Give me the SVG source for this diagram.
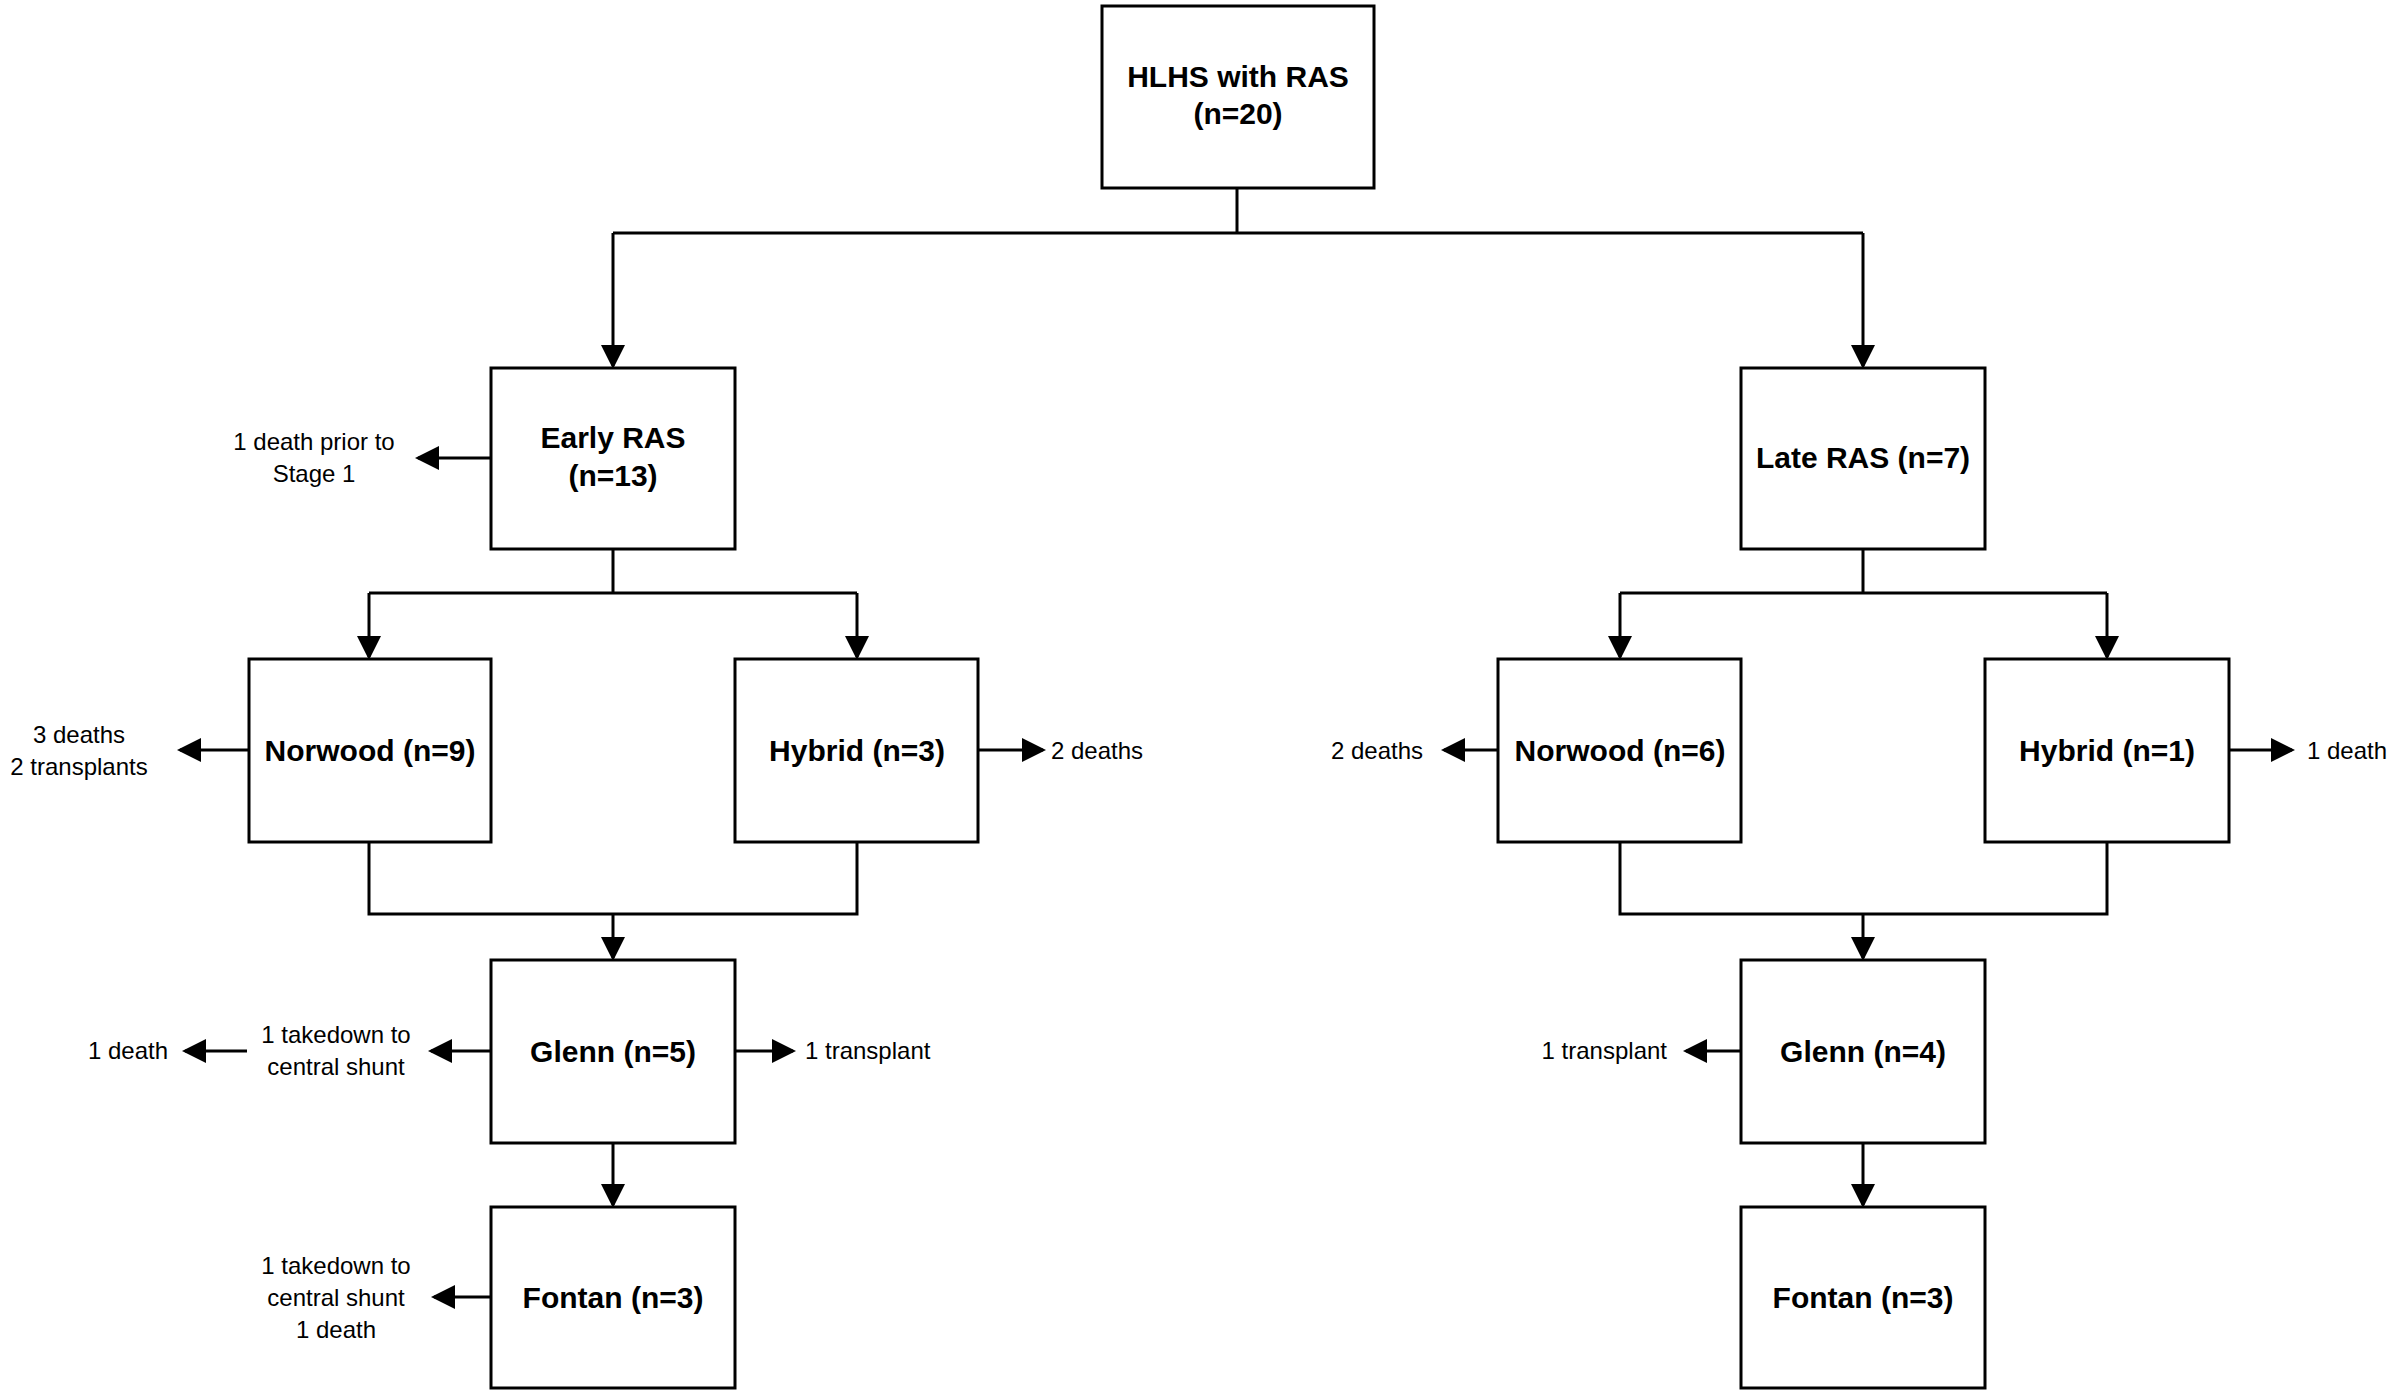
<svg xmlns="http://www.w3.org/2000/svg" width="2392" height="1395" viewBox="0 0 2392 1395">
<style>
.b{fill:#fff;stroke:#000;stroke-width:3}
.t{font-family:"Liberation Sans",Arial,sans-serif;font-size:30px;font-weight:bold;text-anchor:middle}
.s{font-family:"Liberation Sans",Arial,sans-serif;font-size:24px}
.c path{fill:none;stroke:#000;stroke-width:3}
</style>
<defs><marker id="a" markerWidth="8" markerHeight="8" refX="7" refY="4" orient="auto" markerUnits="strokeWidth"><path d="M0,0L8,4L0,8z" fill="#000"/></marker></defs>
<rect width="2392" height="1395" fill="#fff"/>
<g class="c">
<path d="M1237,188V233M613,233H1863"/>
<path d="M613,233V366" marker-end="url(#a)"/><path d="M1863,233V366" marker-end="url(#a)"/>
<path d="M613,549V593H857M369,593H613"/>
<path d="M369,593V657" marker-end="url(#a)"/><path d="M857,593V657" marker-end="url(#a)"/>
<path d="M1863,549V593H2107M1620,593H1863"/>
<path d="M1620,593V657" marker-end="url(#a)"/><path d="M2107,593V657" marker-end="url(#a)"/>
<path d="M369,842V914H857V842M1620,842V914H2107V842"/>
<path d="M613,914V958" marker-end="url(#a)"/><path d="M1863,914V958" marker-end="url(#a)"/>
<path d="M613,1143V1205" marker-end="url(#a)"/><path d="M1863,1143V1205" marker-end="url(#a)"/>
<path d="M491,458H418" marker-end="url(#a)"/>
<path d="M249,750H180" marker-end="url(#a)"/>
<path d="M978,750H1043" marker-end="url(#a)"/>
<path d="M1498,750H1444" marker-end="url(#a)"/>
<path d="M2229,750H2292" marker-end="url(#a)"/>
<path d="M491,1051H431" marker-end="url(#a)"/>
<path d="M247,1051H185" marker-end="url(#a)"/>
<path d="M735,1051H793" marker-end="url(#a)"/>
<path d="M1741,1051H1686" marker-end="url(#a)"/>
<path d="M491,1297H434" marker-end="url(#a)"/>
</g>
<g id="top"><rect class="b" x="1102" y="6" width="272" height="182"/><text class="t" x="1238" y="87">HLHS with RAS</text><text class="t" x="1238" y="124">(n=20)</text></g>
<g id="early"><rect class="b" x="491" y="368" width="244" height="181"/><text class="t" x="613" y="448">Early RAS</text><text class="t" x="613" y="486">(n=13)</text></g>
<g id="late"><rect class="b" x="1741" y="368" width="244" height="181"/><text class="t" x="1863" y="468">Late RAS (n=7)</text></g>
<g id="norwoodL"><rect class="b" x="249" y="659" width="242" height="183"/><text class="t" x="370" y="761">Norwood (n=9)</text></g>
<g id="hybridL"><rect class="b" x="735" y="659" width="243" height="183"/><text class="t" x="857" y="761">Hybrid (n=3)</text></g>
<g id="norwoodR"><rect class="b" x="1498" y="659" width="243" height="183"/><text class="t" x="1620" y="761">Norwood (n=6)</text></g>
<g id="hybridR"><rect class="b" x="1985" y="659" width="244" height="183"/><text class="t" x="2107" y="761">Hybrid (n=1)</text></g>
<g id="glennL"><rect class="b" x="491" y="960" width="244" height="183"/><text class="t" x="613" y="1062">Glenn (n=5)</text></g>
<g id="glennR"><rect class="b" x="1741" y="960" width="244" height="183"/><text class="t" x="1863" y="1062">Glenn (n=4)</text></g>
<g id="fontanL"><rect class="b" x="491" y="1207" width="244" height="181"/><text class="t" x="613" y="1308">Fontan (n=3)</text></g>
<g id="fontanR"><rect class="b" x="1741" y="1207" width="244" height="181"/><text class="t" x="1863" y="1308">Fontan (n=3)</text></g>
<g id="labels" class="s">
<text x="314" y="450" text-anchor="middle">1 death prior to</text><text x="314" y="482" text-anchor="middle">Stage 1</text>
<text x="79" y="743" text-anchor="middle">3 deaths</text><text x="79" y="775" text-anchor="middle">2 transplants</text>
<text x="1051" y="759">2 deaths</text>
<text x="1423" y="759" text-anchor="end">2 deaths</text>
<text x="2307" y="759">1 death</text>
<text x="336" y="1043" text-anchor="middle">1 takedown to</text><text x="336" y="1075" text-anchor="middle">central shunt</text>
<text x="168" y="1059" text-anchor="end">1 death</text>
<text x="805" y="1059">1 transplant</text>
<text x="1667" y="1059" text-anchor="end">1 transplant</text>
<text x="336" y="1274" text-anchor="middle">1 takedown to</text><text x="336" y="1306" text-anchor="middle">central shunt</text><text x="336" y="1338" text-anchor="middle">1 death</text>
</g>
</svg>
